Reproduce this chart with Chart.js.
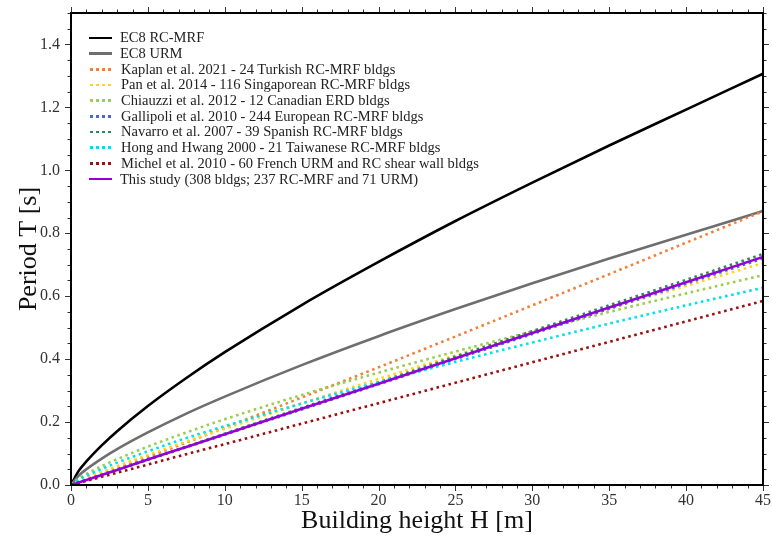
<!doctype html>
<html lang="en">
  <head>
    <meta charset="utf-8">
    <title>Period - height relationships</title>
    <script src="https://cdn.jsdelivr.net/npm/chart.js@4.4.1/dist/chart.umd.min.js"></script>
    <style>
      html, body { margin: 0; padding: 0; background: #fff; }
      #wrap { position: relative; width: 772px; height: 542px; }
      #legend {
        position: absolute; left: 90px; top: 30px;
        font-family: "Liberation Serif", serif; font-size: 14.5px; color: #222;
      }
      #legend .row { display: flex; align-items: center; height: 15.7px; white-space: nowrap; }
      #legend .s { display: inline-block; width: 21px; height: 2.6px; margin-right: 10px; }
    </style>
  </head>
  <body>
    <div id="wrap">
      <canvas id="chart" width="772" height="542"></canvas>
      <div id="legend"></div>
    </div>

    <script>
      // building height H [m]
      const heights = [0, 0.5, 1, 2, 3, 5, 7.5, 10, 15, 20, 25, 30, 35, 40, 45];

      // period T [s]
      const ec8RcMrf  = [0, 0.045, 0.075, 0.126, 0.171, 0.251, 0.340, 0.422, 0.572, 0.709, 0.839, 0.961, 1.079, 1.193, 1.307];
      const ec8Urm    = [0, 0.030, 0.050, 0.084, 0.114, 0.167, 0.227, 0.281, 0.381, 0.473, 0.559, 0.641, 0.720, 0.795, 0.871];
      const kaplan    = [0, 0.008, 0.017, 0.034, 0.052, 0.089, 0.135, 0.182, 0.278, 0.374, 0.472, 0.571, 0.670, 0.770, 0.870];
      const pan       = [0, 0.012, 0.022, 0.041, 0.060, 0.095, 0.138, 0.179, 0.259, 0.337, 0.412, 0.487, 0.561, 0.633, 0.705];
      const chiauzzi  = [0, 0.021, 0.035, 0.060, 0.082, 0.122, 0.167, 0.209, 0.286, 0.357, 0.424, 0.488, 0.550, 0.609, 0.667];
      const gallipoli = [0, 0.008, 0.016, 0.032, 0.048, 0.080, 0.120, 0.160, 0.240, 0.320, 0.400, 0.480, 0.560, 0.640, 0.720];
      const navarro   = [0, 0.008, 0.016, 0.033, 0.049, 0.082, 0.122, 0.163, 0.245, 0.326, 0.408, 0.489, 0.571, 0.652, 0.734];
      const hongHwang = [0, 0.017, 0.029, 0.051, 0.071, 0.107, 0.149, 0.187, 0.259, 0.327, 0.391, 0.453, 0.513, 0.571, 0.627];
      const michel    = [0, 0.007, 0.013, 0.026, 0.039, 0.065, 0.098, 0.130, 0.195, 0.260, 0.325, 0.390, 0.455, 0.520, 0.585];
      const thisStudy = [0, 0.008, 0.016, 0.032, 0.048, 0.081, 0.121, 0.161, 0.242, 0.322, 0.403, 0.483, 0.564, 0.644, 0.725];

      const labels = [
        "EC8 RC-MRF",
        "EC8 URM",
        "Kaplan et al. 2021 - 24 Turkish RC-MRF bldgs",
        "Pan et al. 2014 - 116 Singaporean RC-MRF bldgs",
        "Chiauzzi et al. 2012 - 12 Canadian ERD bldgs",
        "Gallipoli et al. 2010 - 244 European RC-MRF bldgs",
        "Navarro et al. 2007 - 39 Spanish RC-MRF bldgs",
        "Hong and Hwang 2000 - 21 Taiwanese RC-MRF bldgs",
        "Michel et al. 2010 - 60 French URM and RC shear wall bldgs",
        "This study (308 bldgs; 237 RC-MRF and 71 URM)"
      ];
      const series = [ec8RcMrf, ec8Urm, kaplan, pan, chiauzzi, gallipoli, navarro, hongHwang, michel, thisStudy];
      const colors = ["#000000", "#6e6e6e", "#f0803c", "#ffd21f", "#9acd50", "#4169e1", "#2e8b57", "#00e0ee", "#9b1010", "#9400d3"];
      const dotted = [false, false, true, true, true, true, true, true, true, false];

      const datasets = series.map((vals, i) => ({
        label: labels[i],
        data: heights.map((h, j) => ({ x: h, y: vals[j] })),
        borderColor: colors[i],
        borderWidth: 2.6,
        borderDash: dotted[i] ? [2.6, 3.6] : [],
        pointRadius: 0,
        fill: false,
        cubicInterpolationMode: "monotone",
        order: i === 9 ? 0 : 10 - i
      }));

      // ticks on all four sides plus the frame
      const frame = {
        id: "frame",
        afterDraw(chart) {
          const { ctx, chartArea: a, scales: { x, y } } = chart;
          ctx.save();
          ctx.strokeStyle = "#333";
          ctx.lineWidth = 1;
          ctx.beginPath();
          for (let h = 0; h <= 45; h++) {
            const px = Math.round(x.getPixelForValue(h)) + 0.5;
            const len = h % 5 === 0 ? 6 : 3.5;
            ctx.moveTo(px, a.bottom); ctx.lineTo(px, a.bottom + len);
            ctx.moveTo(px, a.top); ctx.lineTo(px, a.top - len);
          }
          for (let i = 0; i <= 30; i++) {
            const py = Math.round(y.getPixelForValue(i * 0.05)) + 0.5;
            const len = i % 4 === 0 ? 6 : 3.5;
            ctx.moveTo(a.left, py); ctx.lineTo(a.left - len, py);
            ctx.moveTo(a.right, py); ctx.lineTo(a.right + len, py);
          }
          ctx.stroke();
          ctx.strokeStyle = "#000";
          ctx.lineWidth = 2;
          ctx.strokeRect(a.left, a.top, a.right - a.left, a.bottom - a.top);
          ctx.restore();
        }
      };

      const serif = "'Liberation Serif', 'DejaVu Serif', serif";
      const noPad = s => { s.paddingTop = 0; s.paddingBottom = 0; s.paddingLeft = 0; s.paddingRight = 0; };

      new Chart(document.getElementById("chart"), {
        type: "line",
        data: { datasets },
        options: {
          responsive: false,
          animation: false,
          devicePixelRatio: 1,
          layout: { padding: { top: 13, right: 9, left: 0, bottom: 0 } },
          plugins: { legend: { display: false }, tooltip: { enabled: false } },
          scales: {
            x: {
              type: "linear", min: 0, max: 45,
              grid: { display: false, drawTicks: false },
              border: { display: false },
              ticks: { stepSize: 5, padding: 6, color: "#333", font: { family: serif, size: 16 } },
              title: { display: true, text: "Building height H [m]", color: "#111", font: { family: serif, size: 26 }, padding: { bottom: 5 } },
              afterFit: s => { s.height = 57; noPad(s); }
            },
            y: {
              min: 0, max: 1.5,
              grid: { display: false, drawTicks: false },
              border: { display: false },
              ticks: { stepSize: 0.2, padding: 11, color: "#333", font: { family: serif, size: 16 }, callback: v => v.toFixed(1) },
              afterBuildTicks: s => { s.ticks = s.ticks.filter(t => Math.abs(t.value * 5 - Math.round(t.value * 5)) < 1e-6); },
              title: { display: true, text: "Period T [s]", color: "#111", font: { family: serif, size: 26 }, padding: { top: 14 } },
              afterFit: s => { s.width = 71; noPad(s); }
            }
          }
        },
        plugins: [frame]
      });

      // legend in the top-left corner of the plot
      const legend = document.getElementById("legend");
      labels.forEach((text, i) => {
        const row = document.createElement("div");
        row.className = "row";
        const s = document.createElement("span");
        s.className = "s";
        s.style.background = dotted[i]
          ? `repeating-linear-gradient(to right, ${colors[i]} 0 2.6px, transparent 2.6px 6px)`
          : colors[i];
        if (!dotted[i]) { s.style.width = "23px"; s.style.marginRight = "8px"; s.style.marginLeft = "-1px"; }
        row.appendChild(s);
        row.appendChild(document.createTextNode(text));
        legend.appendChild(row);
      });
    </script>
  </body>
</html>
